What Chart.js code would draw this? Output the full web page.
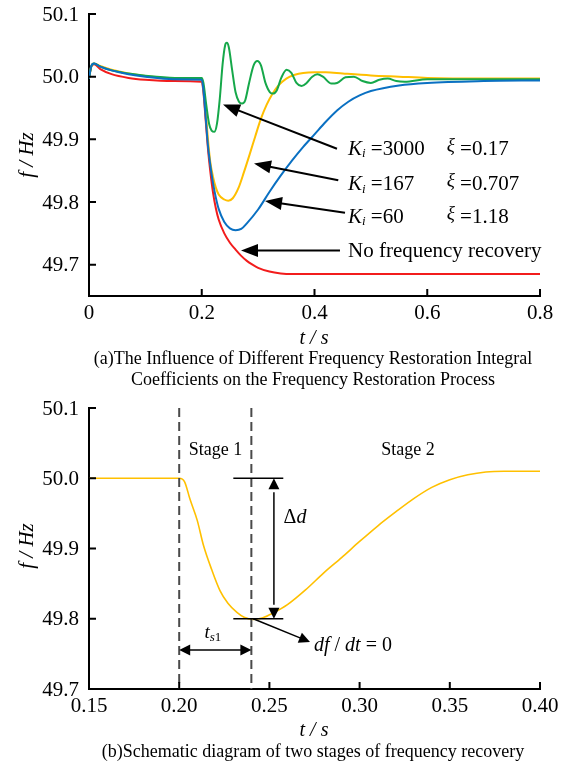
<!DOCTYPE html>
<html>
<head>
<meta charset="utf-8">
<script src="https://cdn.jsdelivr.net/npm/chart.js@4.4.1/dist/chart.umd.min.js"></script>
<style>
  body { margin: 0; background: #fff; width: 566px; height: 764px; position: relative; overflow: hidden;
         font-family: "Liberation Serif", "Times New Roman", serif; color: #000; }
  .box { position: absolute; left: 0; width: 566px; }
  .txt { position: absolute; white-space: nowrap; transform: translate(-50%, -50%); }
  .ax { font-style: italic; font-size: 20px; }
  .cap { font-size: 18px; }
</style>
</head>
<body>
<div class="box" style="top:0;height:400px"><canvas id="topChart"></canvas></div>
<div class="box" style="top:385px;height:379px"><canvas id="bottomChart"></canvas></div>

<div class="txt ax" style="left:26px;top:155px;font-size:21px;transform:translate(-50%,-50%) rotate(-90deg)">f / Hz</div>
<div class="txt ax" style="left:314px;top:337px">t / s</div>
<div class="txt cap" style="left:313px;top:358px">(a)The Influence of Different Frequency Restoration Integral</div>
<div class="txt cap" style="left:313px;top:379px">Coefficients on the Frequency Restoration Process</div>

<div class="txt ax" style="left:26px;top:546px;font-size:21px;transform:translate(-50%,-50%) rotate(-90deg)">f / Hz</div>
<div class="txt ax" style="left:314px;top:729px">t / s</div>
<div class="txt cap" style="left:313px;top:751px">(b)Schematic diagram of two stages of frequency recovery</div>

<script>
// ---- (a) data ----
const topXTicks = [0, 0.2, 0.4, 0.6, 0.8];
const topXLabels = ['0', '0.2', '0.4', '0.6', '0.8'];
const topYTicks = [49.7, 49.8, 49.9, 50.0, 50.1];

const redTime = [0, 0.004, 0.009, 0.02, 0.04, 0.07, 0.1, 0.15, 0.2, 0.203, 0.207, 0.211, 0.215, 0.22, 0.225, 0.23, 0.24, 0.25, 0.26, 0.27, 0.28, 0.29, 0.3, 0.32, 0.34, 0.36, 0.4, 0.5, 0.6, 0.7, 0.8];
const redFreq = [49.997, 50.016, 50.02, 50.012, 50.004, 49.998, 49.995, 49.993, 49.992, 49.975, 49.93, 49.885, 49.85, 49.815, 49.79, 49.772, 49.75, 49.735, 49.724, 49.714, 49.706, 49.7, 49.695, 49.689, 49.686, 49.685, 49.685, 49.685, 49.685, 49.685, 49.685];

const blueTime = [0, 0.004, 0.009, 0.02, 0.04, 0.07, 0.1, 0.15, 0.2, 0.203, 0.207, 0.211, 0.215, 0.22, 0.225, 0.23, 0.24, 0.25, 0.26, 0.27, 0.28, 0.3, 0.32, 0.34, 0.36, 0.38, 0.4, 0.42, 0.44, 0.46, 0.48, 0.5, 0.55, 0.6, 0.7, 0.8];
const blueFreq = [49.997, 50.017, 50.021, 50.016, 50.01, 50.004, 50.0, 49.996, 49.995, 49.978, 49.935, 49.89, 49.86, 49.83, 49.807, 49.789, 49.768, 49.758, 49.755, 49.757, 49.766, 49.788, 49.816, 49.842, 49.866, 49.888, 49.908, 49.928, 49.946, 49.96, 49.97, 49.977, 49.986, 49.99, 49.993, 49.994];

const yellowTime = [0, 0.004, 0.009, 0.02, 0.04, 0.07, 0.1, 0.15, 0.2, 0.203, 0.207, 0.211, 0.215, 0.22, 0.225, 0.23, 0.24, 0.247, 0.255, 0.265, 0.275, 0.285, 0.295, 0.305, 0.315, 0.325, 0.335, 0.35, 0.365, 0.38, 0.4, 0.42, 0.45, 0.5, 0.55, 0.6, 0.7, 0.8];
const yellowFreq = [49.997, 50.017, 50.021, 50.017, 50.011, 50.005, 50.001, 49.997, 49.996, 49.982, 49.945, 49.9, 49.865, 49.84, 49.823, 49.812, 49.804, 49.802, 49.806, 49.822, 49.848, 49.876, 49.905, 49.933, 49.955, 49.972, 49.985, 49.997, 50.003, 50.006, 50.007, 50.007, 50.005, 50.002, 50.0, 49.998, 49.997, 49.997];

const greenTime = [0, 0.004, 0.009, 0.02, 0.04, 0.08, 0.12, 0.16, 0.2, 0.203, 0.208, 0.213, 0.2175, 0.2225, 0.227, 0.232, 0.237, 0.2415, 0.2445, 0.248, 0.254, 0.26, 0.266, 0.2715, 0.277, 0.284, 0.292, 0.2985, 0.305, 0.313, 0.321, 0.3265, 0.333, 0.341, 0.3505, 0.359, 0.368, 0.377, 0.386, 0.396, 0.405, 0.415, 0.43, 0.44, 0.455, 0.47, 0.485, 0.5, 0.515, 0.53, 0.545, 0.56, 0.6, 0.7, 0.8];
const greenFreq = [49.997, 50.016, 50.021, 50.016, 50.01, 50.004, 50.0, 49.998, 49.998, 49.99, 49.955, 49.925, 49.914, 49.912, 49.925, 49.965, 50.02, 50.05, 50.054, 50.047, 50.01, 49.975, 49.96, 49.957, 49.962, 49.99, 50.018, 50.025, 50.018, 49.99, 49.975, 49.973, 49.978, 49.998, 50.011, 50.006, 49.99, 49.985, 49.99, 50.0, 50.004, 50.0, 49.989, 49.99, 49.999, 50.0, 49.993, 49.99, 49.995, 49.997, 49.993, 49.992, 49.996, 49.996, 49.996];

const kValues = ['3000', '167', '60'];
const xiValues = ['0.17', '0.707', '1.18'];
const noRecoveryText = 'No frequency recovery';

// ---- (b) data ----
const bottomXTicks = [0.15, 0.2, 0.25, 0.3, 0.35, 0.4];
const bottomXLabels = ['0.15', '0.20', '0.25', '0.30', '0.35', '0.40'];
const bottomYTicks = [49.7, 49.8, 49.9, 50.0, 50.1];
const stageTime = [0.15, 0.2, 0.203, 0.206, 0.21, 0.2134, 0.218, 0.2226, 0.227, 0.232, 0.236, 0.241, 0.246, 0.252, 0.26, 0.27, 0.28, 0.29, 0.3, 0.31, 0.32, 0.33, 0.34, 0.35, 0.36, 0.37, 0.38, 0.4];
const stageFreq = [50.0, 50.0, 49.995, 49.97, 49.94, 49.905, 49.87, 49.84, 49.822, 49.809, 49.802, 49.799, 49.801, 49.808, 49.82, 49.841, 49.865, 49.887, 49.91, 49.932, 49.952, 49.971, 49.987, 49.998, 50.005, 50.009, 50.01, 50.01];
const stageLabels = ['Stage 1', 'Stage 2'];

const serif = '"Liberation Serif", "Times New Roman", serif';
Chart.defaults.font.family = serif;
Chart.defaults.color = '#000';

const pts = (xs, ys) => xs.map((x, i) => ({ x: x, y: ys[i] }));

function fontOf(p) {
  return (p.it ? 'italic ' : '') + (p.s || 20) + 'px ' + serif;
}
// draw a run of text pieces (for subscripts and italics)
function rich(ctx, x, y, parts, align) {
  let w = 0;
  parts.forEach(p => { ctx.font = fontOf(p); w += ctx.measureText(p.t).width; });
  let cx = align === 'center' ? x - w / 2 : x;
  ctx.textBaseline = 'middle';
  ctx.textAlign = 'left';
  parts.forEach(p => {
    ctx.font = fontOf(p);
    ctx.fillText(p.t, cx, y + (p.dy || 0));
    cx += ctx.measureText(p.t).width;
  });
}
function head(ctx, x1, y1, x2, y2, len, half) {
  const a = Math.atan2(y2 - y1, x2 - x1);
  const c = Math.cos(a), s = Math.sin(a);
  ctx.beginPath();
  ctx.moveTo(x2, y2);
  ctx.lineTo(x2 - len * c + half * s, y2 - len * s - half * c);
  ctx.lineTo(x2 - len * c - half * s, y2 - len * s + half * c);
  ctx.closePath();
  ctx.fill();
}
function arrow(ctx, x1, y1, x2, y2, len, half) {
  const a = Math.atan2(y2 - y1, x2 - x1);
  ctx.beginPath();
  ctx.moveTo(x1, y1);
  ctx.lineTo(x2 - len * 0.8 * Math.cos(a), y2 - len * 0.8 * Math.sin(a));
  ctx.stroke();
  head(ctx, x1, y1, x2, y2, len, half);
}

// inward tick marks plus serif tick labels, placed by the chart's own scales
function axisMarks(xLabels) {
  return {
    id: 'axisMarks',
    afterDraw(chart) {
      const { ctx, chartArea: a, scales: { x, y } } = chart;
      ctx.save();
      ctx.strokeStyle = '#000';
      ctx.lineWidth = 2;
      ctx.beginPath();
      x.ticks.forEach(t => {
        const p = x.getPixelForValue(t.value);
        if (p > a.left + 2) { ctx.moveTo(p, a.bottom); ctx.lineTo(p, a.bottom - 7); }
      });
      y.ticks.forEach(t => {
        const p = y.getPixelForValue(t.value);
        if (p < a.bottom - 2) { ctx.moveTo(a.left, p); ctx.lineTo(a.left + 7, p); }
      });
      ctx.stroke();
      ctx.fillStyle = '#000';
      ctx.font = '21px ' + serif;
      ctx.textBaseline = 'middle';
      ctx.textAlign = 'center';
      x.ticks.forEach((t, i) => ctx.fillText(xLabels[i], x.getPixelForValue(t.value), a.bottom + 17));
      ctx.textAlign = 'right';
      y.ticks.forEach(t => ctx.fillText(t.value.toFixed(1), a.left - 10, y.getPixelForValue(t.value) + 1));
      ctx.restore();
    }
  };
}

function scalesFor(xMin, xMax, xTicks, yMin, yMax, yTicks, xHeight) {
  return {
    x: {
      type: 'linear', min: xMin, max: xMax,
      grid: { display: false },
      border: { display: true, color: '#000', width: 2 },
      afterBuildTicks: s => { s.ticks = xTicks.map(v => ({ value: v })); },
      afterFit: s => { s.height = xHeight; s.paddingLeft = 0; s.paddingRight = 0; },
      ticks: { display: false }
    },
    y: {
      type: 'linear', min: yMin, max: yMax,
      grid: { display: false },
      border: { display: true, color: '#000', width: 2 },
      afterBuildTicks: s => { s.ticks = yTicks.map(v => ({ value: v })); },
      afterFit: s => { s.width = 89; s.paddingTop = 0; s.paddingBottom = 0; },
      ticks: { display: false }
    }
  };
}

const line = (data, color, w) => ({
  data: data, borderColor: color, borderWidth: w, pointRadius: 0,
  cubicInterpolationMode: 'monotone', fill: false
});

// ---- chart (a) ----
const topNotes = {
  id: 'topNotes',
  afterDatasetsDraw(chart) {
    const { ctx, scales: { x, y } } = chart;
    const X = v => x.getPixelForValue(v), Y = v => y.getPixelForValue(v);
    ctx.save();
    ctx.strokeStyle = '#000';
    ctx.fillStyle = '#000';
    ctx.lineWidth = 2;
    const arrows = [
      [0.4399, 49.885, 0.2377, 49.9556],
      [0.4422, 49.8348, 0.2927, 49.8614],
      [0.4541, 49.7828, 0.3122, 49.8016],
      [0.4452, 49.7225, 0.2696, 49.7225]
    ];
    arrows.forEach(a => arrow(ctx, X(a[0]), Y(a[1]), X(a[2]), Y(a[3]), 17, 6.5));
    const rows = [49.8845, 49.8284, 49.776];
    kValues.forEach((k, i) => {
      rich(ctx, X(0.4594), Y(rows[i]), [
        { t: 'K', it: true, s: 21 }, { t: 'i', it: true, s: 13, dy: 5 }, { t: ' =' + k, s: 21 }
      ]);
      rich(ctx, X(0.6345), Y(rows[i]), [
        { t: 'ξ', it: true, s: 19, dy: -3 }, { t: ' =' + xiValues[i], s: 21 }
      ]);
    });
    rich(ctx, X(0.4594), Y(49.7214), [{ t: noRecoveryText, s: 21 }]);
    ctx.restore();
  }
};

new Chart(document.getElementById('topChart'), {
  type: 'line',
  data: {
    datasets: [
      line(pts(blueTime, blueFreq), '#0a70c2', 2),
      line(pts(greenTime, greenFreq), '#16a84a', 2),
      line(pts(yellowTime, yellowFreq), '#ffbf00', 2),
      line(pts(redTime, redFreq), '#f21c1c', 2)
    ]
  },
  options: {
    responsive: true, maintainAspectRatio: false, animation: false,
    layout: { padding: { top: 14, right: 26, left: 0, bottom: 0 } },
    plugins: { legend: { display: false }, tooltip: { enabled: false } },
    scales: scalesFor(0, 0.8, topXTicks, 49.65, 50.1, topYTicks, 104)
  },
  plugins: [axisMarks(topXLabels), topNotes]
});

// ---- chart (b) ----
const bottomNotes = {
  id: 'bottomNotes',
  afterDatasetsDraw(chart) {
    const { ctx, chartArea: a, scales: { x, y } } = chart;
    const X = v => x.getPixelForValue(v), Y = v => y.getPixelForValue(v);
    ctx.save();
    // stage boundaries
    ctx.strokeStyle = '#4a4a4a';
    ctx.lineWidth = 2;
    ctx.setLineDash([9, 5]);
    [0.2, 0.24].forEach(t => {
      ctx.beginPath(); ctx.moveTo(X(t), a.top); ctx.lineTo(X(t), a.bottom); ctx.stroke();
    });
    ctx.setLineDash([]);
    ctx.strokeStyle = '#000';
    ctx.fillStyle = '#000';
    ctx.lineWidth = 1.5;
    [50.0, 49.8].forEach(f => {
      ctx.beginPath(); ctx.moveTo(X(0.23), Y(f)); ctx.lineTo(X(0.2577), Y(f)); ctx.stroke();
    });
    // delta d double arrow
    const vx = X(0.2525);
    ctx.beginPath(); ctx.moveTo(vx, Y(49.98)); ctx.lineTo(vx, Y(49.82)); ctx.stroke();
    head(ctx, vx, Y(49.9), vx, Y(50.0), 11, 5.5);
    head(ctx, vx, Y(49.9), vx, Y(49.8), 11, 5.5);
    // t_s1 double arrow
    const hy = Y(49.7555);
    ctx.beginPath(); ctx.moveTo(X(0.2) + 8, hy); ctx.lineTo(X(0.24) - 8, hy); ctx.stroke();
    head(ctx, X(0.22), hy, X(0.2), hy, 11, 5.5);
    head(ctx, X(0.22), hy, X(0.24), hy, 11, 5.5);
    // df/dt arrow
    arrow(ctx, X(0.241), Y(49.8), X(0.2725), Y(49.767), 11, 5.5);

    rich(ctx, X(0.2201), Y(50.04), [{ t: stageLabels[0], s: 18 }], 'center');
    rich(ctx, X(0.3268), Y(50.04), [{ t: stageLabels[1], s: 18 }], 'center');
    rich(ctx, X(0.2642), Y(49.944), [{ t: 'Δ', s: 20 }, { t: 'd', it: true, s: 20 }], 'center');
    rich(ctx, X(0.2187), Y(49.78), [
      { t: 't', it: true, s: 19 }, { t: 's', it: true, s: 13, dy: 5 }, { t: '1', s: 13, dy: 5 }
    ], 'center');
    rich(ctx, X(0.2747), Y(49.761), [
      { t: 'df', it: true, s: 20 }, { t: ' / ', s: 20 }, { t: 'dt', it: true, s: 20 }, { t: ' = 0', s: 20 }
    ]);
    ctx.restore();
  }
};

new Chart(document.getElementById('bottomChart'), {
  type: 'line',
  data: { datasets: [line(pts(stageTime, stageFreq), '#ffc000', 1.6)] },
  options: {
    responsive: true, maintainAspectRatio: false, animation: false,
    layout: { padding: { top: 23, right: 26, left: 0, bottom: 0 } },
    plugins: { legend: { display: false }, tooltip: { enabled: false } },
    scales: scalesFor(0.15, 0.4, bottomXTicks, 49.7, 50.1, bottomYTicks, 75)
  },
  plugins: [axisMarks(bottomXLabels), bottomNotes]
});
</script>
</body>
</html>
